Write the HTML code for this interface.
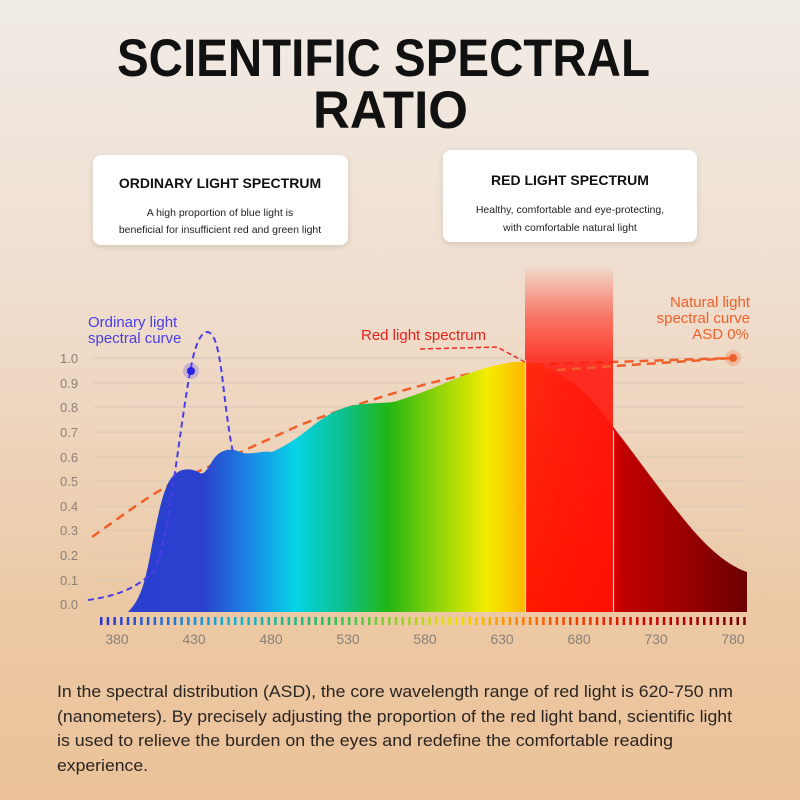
<!DOCTYPE html>
<html><head><meta charset="utf-8"><style>
html,body{margin:0;padding:0}
body{width:800px;height:800px;overflow:hidden;background:linear-gradient(180deg,#f1ece7 0%,#efdccb 40%,#ecc9a5 75%,#ebc299 100%)}
svg{display:block}
text{font-family:"Liberation Sans",sans-serif}
</style></head><body>
<svg width="800" height="800" viewBox="0 0 800 800" xmlns="http://www.w3.org/2000/svg">
<defs>
<linearGradient id="spec" x1="128" y1="0" x2="747" y2="0" gradientUnits="userSpaceOnUse">
<stop offset="0" stop-color="#2a3fd0"/>
<stop offset="0.12" stop-color="#2b40cc"/>
<stop offset="0.2" stop-color="#1a8ae6"/>
<stop offset="0.27" stop-color="#06d4e6"/>
<stop offset="0.35" stop-color="#0cc08a"/>
<stop offset="0.42" stop-color="#22b612"/>
<stop offset="0.5" stop-color="#8ed40a"/>
<stop offset="0.58" stop-color="#f4ec00"/>
<stop offset="0.65" stop-color="#ffb000"/>
<stop offset="0.7" stop-color="#ff5a00"/>
<stop offset="0.75" stop-color="#ff1a05"/>
<stop offset="0.785" stop-color="#e00000"/>
<stop offset="0.8" stop-color="#c00000"/>
<stop offset="0.9" stop-color="#9a0000"/>
<stop offset="1" stop-color="#6a0000"/>
</linearGradient>
<linearGradient id="band" x1="0" y1="265" x2="0" y2="612" gradientUnits="userSpaceOnUse">
<stop offset="0" stop-color="#ff3020" stop-opacity="0"/>
<stop offset="0.15" stop-color="#ff3020" stop-opacity="0.6"/>
<stop offset="0.3" stop-color="#ff1a10" stop-opacity="0.9"/>
<stop offset="1" stop-color="#ff1000" stop-opacity="0.95"/>
</linearGradient>
<linearGradient id="ticks" x1="100" y1="0" x2="747" y2="0" gradientUnits="userSpaceOnUse">
<stop offset="0" stop-color="#3030d0"/>
<stop offset="0.2" stop-color="#10b0e0"/>
<stop offset="0.35" stop-color="#20c060"/>
<stop offset="0.55" stop-color="#f0e000"/>
<stop offset="0.7" stop-color="#ff5000"/>
<stop offset="0.85" stop-color="#d00000"/>
<stop offset="1" stop-color="#700000"/>
</linearGradient>
<filter id="sh" x="-10%" y="-20%" width="120%" height="140%"><feDropShadow dx="0" dy="2" stdDeviation="3" flood-opacity="0.12"/></filter>
</defs>

<text x="117" y="76" font-size="53" font-weight="bold" fill="#111" textLength="533" lengthAdjust="spacingAndGlyphs">SCIENTIFIC SPECTRAL</text>
<text x="313" y="128" font-size="53" font-weight="bold" fill="#111" textLength="155" lengthAdjust="spacingAndGlyphs">RATIO</text>

<rect x="93" y="155" width="255" height="90" rx="8" fill="#fff" filter="url(#sh)"/>
<text x="220" y="188" text-anchor="middle" font-size="14" font-weight="bold" fill="#111">ORDINARY LIGHT SPECTRUM</text>
<text x="220" y="216" text-anchor="middle" font-size="10.5" fill="#222">A high proportion of blue light is</text>
<text x="220" y="233" text-anchor="middle" font-size="10.5" fill="#222">beneficial for insufficient red and green light</text>

<rect x="443" y="150" width="254" height="92" rx="8" fill="#fff" filter="url(#sh)"/>
<text x="570" y="185" text-anchor="middle" font-size="14" font-weight="bold" fill="#111">RED LIGHT SPECTRUM</text>
<text x="570" y="213" text-anchor="middle" font-size="10.5" fill="#222">Healthy, comfortable and eye-protecting,</text>
<text x="570" y="231" text-anchor="middle" font-size="10.5" fill="#222">with comfortable natural light</text>

<g stroke="#d9c9b8" stroke-width="1">
<line x1="93" y1="358" x2="745" y2="358"/><line x1="93" y1="383" x2="745" y2="383"/>
<line x1="93" y1="407" x2="745" y2="407"/><line x1="93" y1="432" x2="745" y2="432"/>
<line x1="93" y1="457" x2="745" y2="457"/><line x1="93" y1="481" x2="745" y2="481"/>
<line x1="93" y1="506" x2="745" y2="506"/><line x1="93" y1="530" x2="745" y2="530"/>
<line x1="93" y1="555" x2="745" y2="555"/><line x1="93" y1="580" x2="745" y2="580"/>
</g>
<g font-size="13" fill="#8a8079">
<text x="60" y="363">1.0</text><text x="60" y="388">0.9</text><text x="60" y="412">0.8</text>
<text x="60" y="437">0.7</text><text x="60" y="462">0.6</text><text x="60" y="486">0.5</text>
<text x="60" y="511">0.4</text><text x="60" y="535">0.3</text><text x="60" y="560">0.2</text>
<text x="60" y="585">0.1</text><text x="60" y="609">0.0</text>
</g>

<path d="M92,537 C130,510 150,495 175,482 L300,425 C380,395 450,375 520,365 L733,358" fill="none" stroke="#f0602a" stroke-width="2.5" stroke-dasharray="9,6"/>

<path d="M128,612 C140,600 145,585 152,545 C160,505 165,482 175,474 C182,468 192,468 200,473 C206,476 210,462 217,455 C224,449 232,448 240,452 C250,456 262,450 272,452 C285,446 295,440 310,428 C330,412 345,405 365,404 C380,402 390,404 400,400 C425,392 440,385 460,377 C480,369 505,361 523,362 C545,364 575,378 600,410 C640,460 680,520 710,548 C725,562 738,569 747,572 L747,612 Z" fill="url(#spec)"/>

<rect x="525" y="265" width="88" height="347" fill="url(#band)"/>
<line x1="525.5" y1="360" x2="525.5" y2="612" stroke="#fff" stroke-opacity="0.8" stroke-width="1.2"/>
<line x1="613.5" y1="430" x2="613.5" y2="612" stroke="#fff" stroke-opacity="0.8" stroke-width="1.2"/>
<path d="M557,370 L733,358" fill="none" stroke="#f0602a" stroke-width="2.5" stroke-dasharray="9,6"/>
<circle cx="733" cy="358" r="8" fill="#f0602a" fill-opacity="0.25"/>
<circle cx="733" cy="358" r="4" fill="#f0602a"/>

<path d="M88,600 C115,596 135,590 155,570 C170,530 178,440 190,372 C195,345 200,333 207,332 C214,332 218,345 222,375 C226,410 230,440 233,452" fill="none" stroke="#4a3ee8" stroke-width="2" stroke-dasharray="6,4"/>
<circle cx="191" cy="371" r="8" fill="#6a5ae0" fill-opacity="0.3"/>
<circle cx="191" cy="371" r="4" fill="#2a20e0"/>

<path d="M420,349 L497,347 L525,362" fill="none" stroke="#e83020" stroke-width="1.5" stroke-dasharray="5,3"/>

<text x="88" y="327" font-size="15" fill="#4a3ee8">Ordinary light</text>
<text x="88" y="343" font-size="15" fill="#4a3ee8">spectral curve</text>
<text x="361" y="340" font-size="15" fill="#e82018">Red light spectrum</text>
<text x="750" y="307" text-anchor="end" font-size="15" fill="#f0602a">Natural light</text>
<text x="750" y="323" text-anchor="end" font-size="15" fill="#f0602a">spectral curve</text>
<text x="749" y="339" text-anchor="end" font-size="15" fill="#f0602a">ASD 0%</text>

<line x1="100" y1="621" x2="748" y2="621" stroke="url(#ticks)" stroke-width="8" stroke-dasharray="2.5,4.2"/>
<g font-size="14" fill="#8a8079" text-anchor="middle">
<text x="117" y="644">380</text><text x="194" y="644">430</text><text x="271" y="644">480</text>
<text x="348" y="644">530</text><text x="425" y="644">580</text><text x="502" y="644">630</text>
<text x="579" y="644">680</text><text x="656" y="644">730</text><text x="733" y="644">780</text>
</g>

<g font-size="17" fill="#2a2420">
<text x="57" y="697" textLength="676" lengthAdjust="spacingAndGlyphs">In the spectral distribution (ASD), the core wavelength range of red light is 620-750 nm</text>
<text x="57" y="722" textLength="675" lengthAdjust="spacingAndGlyphs">(nanometers). By precisely adjusting the proportion of the red light band, scientific light</text>
<text x="57" y="746" textLength="616" lengthAdjust="spacingAndGlyphs">is used to relieve the burden on the eyes and redefine the comfortable reading</text>
<text x="57" y="771" textLength="91" lengthAdjust="spacingAndGlyphs">experience.</text>
</g>
</svg>
</body></html>
